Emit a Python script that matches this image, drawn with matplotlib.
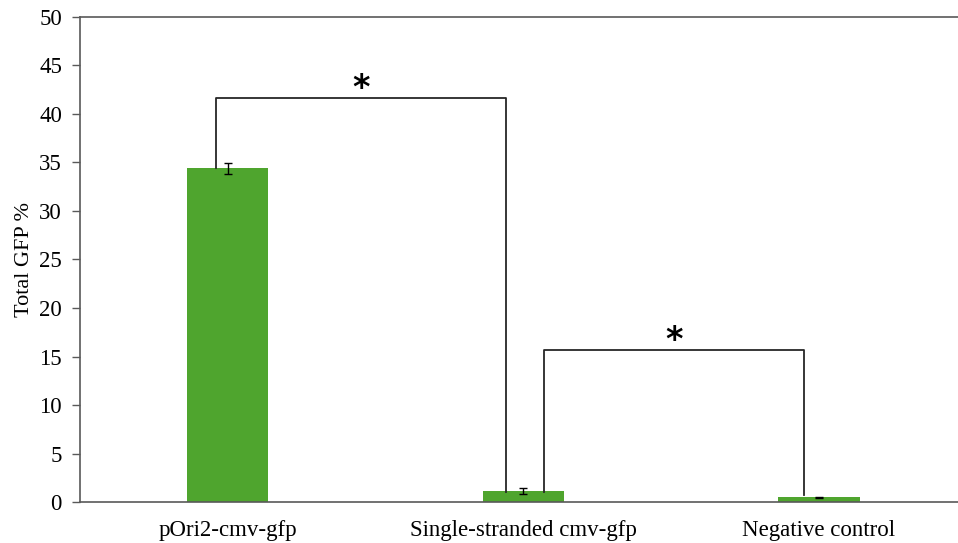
import matplotlib.pyplot as plt

categories = ['pOri2-cmv-gfp', 'Single-stranded cmv-gfp', 'Negative control']
gfp_values = [34.4, 1.1, 0.5]
gfp_errors = [0.55, 0.3, 0.05]
y_ticks = [0, 5, 10, 15, 20, 25, 30, 35, 40, 45, 50]

# significance brackets: (left x, right x, height, left foot, right foot)
brackets = [
    (-0.04, 0.94, 41.6, 34.4, 1.0),
    (1.07, 1.95, 15.7, 1.0, 0.7),
]

plt.rcParams['font.family'] = ['Liberation Serif', 'DejaVu Serif']

fig = plt.figure(figsize=(9.58, 5.43), dpi=100)
ax = fig.add_axes([0.0835, 0.0755, 0.9165, 0.8932])

x = list(range(len(categories)))
ax.bar(x, gfp_values, width=0.275, color='#4FA52E', zorder=2)
ax.errorbar(x, gfp_values, yerr=gfp_errors, fmt='none', ecolor='black',
            elinewidth=1, capsize=3, capthick=1, zorder=3)

for x0, x1, h, f0, f1 in brackets:
    ax.plot([x0, x0, x1, x1], [f0, h, h, f1], color='#262626', lw=1.3, zorder=4)
    ax.text((x0 + x1) / 2, h - 0.7, '*', ha='center', va='bottom',
            fontsize=24, fontweight='bold', family='DejaVu Sans')

ax.set_xlim(-0.5, 2.47)
ax.set_ylim(0, 50)
ax.set_yticks(y_ticks)
ax.set_xticks(x)
ax.set_xticklabels(categories)
ax.tick_params(axis='y', direction='out', length=6, width=1, color='#595959',
               labelsize=16.5, pad=7)
ax.tick_params(axis='x', length=0, labelsize=16.5, pad=13)
ax.set_ylabel('Total GFP %', fontsize=16, labelpad=4)

for side in ['left', 'bottom', 'top']:
    ax.spines[side].set_color('#595959')
    ax.spines[side].set_linewidth(1.2)
ax.spines['right'].set_visible(False)

fig.savefig('out.png', dpi=100)
